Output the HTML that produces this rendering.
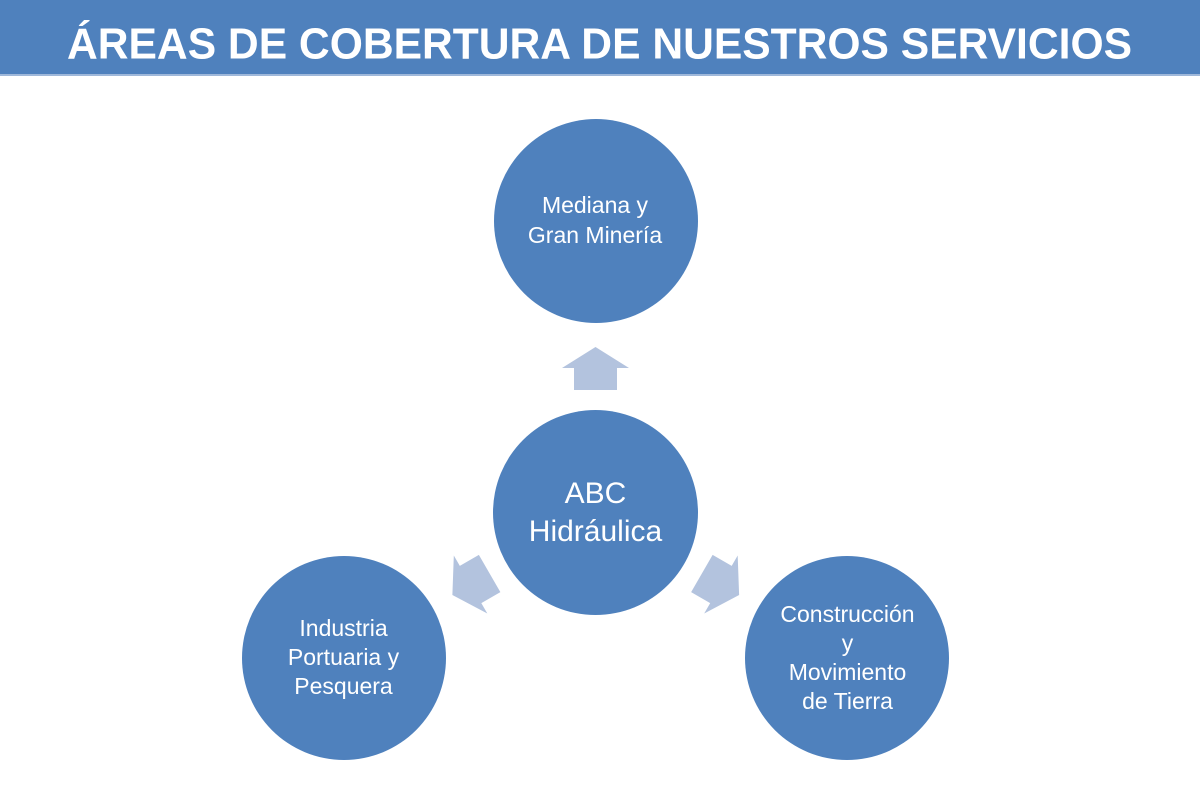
<!DOCTYPE html>
<html>
<head>
<meta charset="utf-8">
<style>
  html, body { margin:0; padding:0; background:#ffffff; }
  body { width:1200px; height:800px; overflow:hidden; }
  svg { display:block; }
  text { font-family: "Liberation Sans", "DejaVu Sans", sans-serif; fill:#ffffff; }
</style>
</head>
<body>
<svg width="1200" height="800" viewBox="0 0 1200 800" xmlns="http://www.w3.org/2000/svg">
  <rect x="0" y="0" width="1200" height="800" fill="#ffffff"/>
  <!-- Header band -->
  <rect x="0" y="0" width="1200" height="75" fill="#4f81bd"/>
  <rect x="0" y="74" width="1200" height="2" fill="#9fb8da"/>
  <text x="67" y="58.5" font-size="44" font-weight="bold" textLength="1065" lengthAdjust="spacingAndGlyphs">ÁREAS DE COBERTURA DE NUESTROS SERVICIOS</text>

  <!-- Arrows -->
  <g fill="#b3c3de">
    <polygon transform="translate(595.5,368.5)" points="0,-21.5 33.5,-0.5 21.5,-0.5 21.5,21.5 -21.5,21.5 -21.5,-0.5 -33.5,-0.5"/>
    <polygon transform="translate(471,584.2) rotate(-120)" points="0,-21.5 33.5,-0.5 21.5,-0.5 21.5,21.5 -21.5,21.5 -21.5,-0.5 -33.5,-0.5"/>
    <polygon transform="translate(720.5,584.2) rotate(120)" points="0,-21.5 33.5,-0.5 21.5,-0.5 21.5,21.5 -21.5,21.5 -21.5,-0.5 -33.5,-0.5"/>
  </g>

  <!-- Circles -->
  <g fill="#4f81bd">
    <circle cx="596" cy="221" r="102"/>
    <circle cx="595.5" cy="512.5" r="102.5"/>
    <circle cx="344" cy="658" r="102"/>
    <circle cx="847" cy="658" r="102"/>
  </g>

  <!-- Labels -->
  <g text-anchor="middle" font-size="23">
    <text x="595" y="213">Mediana y</text>
    <text x="595" y="243">Gran Minería</text>

    <text x="343.5" y="636">Industria</text>
    <text x="343.5" y="665">Portuaria y</text>
    <text x="343.5" y="694">Pesquera</text>

    <text x="847.5" y="622">Construcción</text>
    <text x="847.5" y="651">y</text>
    <text x="847.5" y="680">Movimiento</text>
    <text x="847.5" y="709">de Tierra</text>
  </g>
  <g text-anchor="middle" font-size="30">
    <text x="595.5" y="503">ABC</text>
    <text x="595.5" y="541">Hidráulica</text>
  </g>
</svg>
</body>
</html>
